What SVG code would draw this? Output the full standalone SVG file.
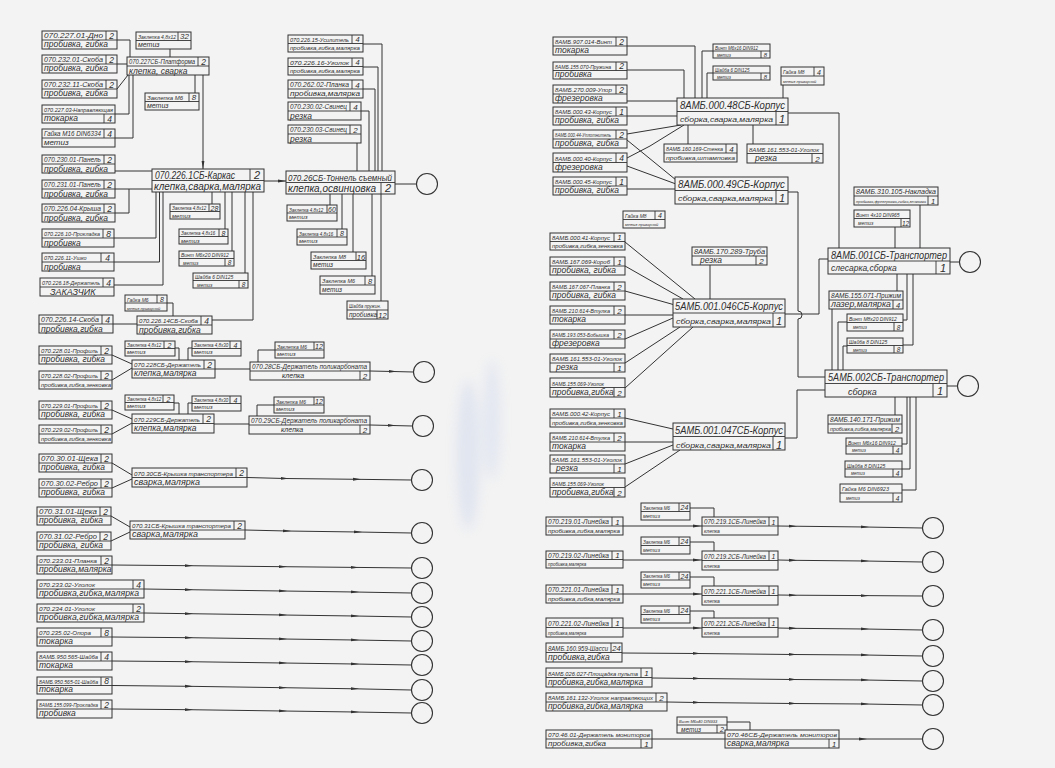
<svg xmlns="http://www.w3.org/2000/svg" width="1055" height="768" viewBox="0 0 1055 768">
<style>
.b{fill:#f3f3f3;stroke:#333;stroke-width:1}
.d{fill:none;stroke:#333;stroke-width:0.9}
.w{fill:none;stroke:#333;stroke-width:1}
.m{marker-mid:url(#a)}
.e{marker-end:url(#ae)}
.o{fill:#f3f3f3;stroke:#333;stroke-width:1.1}
text{font-family:"Liberation Sans",Arial,sans-serif;font-style:italic;fill:#2e2e2e}
.n{text-anchor:middle}
</style>
<defs>
<marker id="a" viewBox="0 0 8 4" refX="4" refY="2" markerWidth="8" markerHeight="4" markerUnits="userSpaceOnUse" orient="auto"><path d="M0 0.6L8 2L0 3.4z" fill="#333"/></marker>
<marker id="ae" viewBox="0 0 8 4" refX="8" refY="2" markerWidth="8" markerHeight="4" markerUnits="userSpaceOnUse" orient="auto"><path d="M0 0.6L8 2L0 3.4z" fill="#333"/></marker>
<filter id="bl" x="-1" y="-1" width="3" height="3"><feGaussianBlur stdDeviation="6"/></filter>
</defs>
<rect x="0" y="0" width="1055" height="768" fill="#f3f3f3"/>
<g opacity="0.18" filter="url(#bl)"><ellipse cx="468" cy="455" rx="12" ry="75" fill="#8fa8e0"/><ellipse cx="492" cy="420" rx="9" ry="60" fill="#9db3e6"/></g>

<g id="connectors">
<path class="w" d="M117 40H130V57M117 64H127M117 89L128 75M115 114H129V75M115 138H133V75M170 49V57M195 93V75"/>
<path class="w e" d="M203 75V169"/>
<path class="w" d="M115 171H152M115 189H152M115 213H129V189M114 238H156V192M114 262H159.5V192M114 285H163V192M212 204V192M225 229V192M232 251V192M245 273V192M212 320H253V192M113 324H137M167 303H173V316"/>
<path class="w e" d="M264 181H286"/>
<path class="w" d="M363 44H382V171M363 67H378V171M363 89H375V171M361 111H369V171M357 143V171M330 205V194M342 229V194M353 252V194M372 276V194M381 301V194M395 184H416.5"/>
<path class="w" d="M112 355L132 364M112 380L132 368M175 348H179V360M192 348H188V360M215 369H250M275 350H258V362"/>
<path class="w m" d="M370 371L393 371.5L413.5 372"/>
<path class="w" d="M112 410L132 419M112 434L132 423M174 403H179V414M192 403H188V414M214 424H249M274 405H257V416"/>
<path class="w m" d="M370 425L392 425.5L412.5 426"/>
<path class="w" d="M112 463L132 475M112 488L132 479M111 516L130 527M111 541L130 532"/>
<path class="w m" d="M247 477.5L285 478.5L357 479.3L411.5 480"/>
<path class="w m" d="M245 530L287 531L358 532L411.5 533"/>
<path class="w m" d="M112 565L189 565.7L283 566.7L355 567.4L411.5 568"/>
<path class="w m" d="M144 589L189 589.7L283 591L355 592L411.5 593"/>
<path class="w m" d="M144 613L189 613.7L283 615L355 616L411.5 617"/>
<path class="w m" d="M112 637L189 637.7L283 639L355 640L411.5 641"/>
<path class="w m" d="M112 661L189 661.7L283 663L355 664L411.5 665"/>
<path class="w m" d="M112 685.5L189 686.3L283 687.7L355 688.8L411.5 690"/>
<path class="w m" d="M112 709L189 709.7L283 711L355 712L411.5 713"/>
<path class="w" d="M627 46H695V98M627 70H684V98M627 101H677M627 116H677M627 134L681 125M627 140L676 180M627 158L650 146L684 125M627 166L676 184M627 189H675M713 51H702V98M713 73H707V98M783 85V98M688 144V125M753 144V125"/>
<path class="w" d="M788 113H839V248M788 192H798V311A4 4 0 0 1 798 319V377H825M785 314H819V259H828M785 438H797V390H825"/>
<path class="w" d="M625 242L695 299M625 266L683 299M625 291L675 305M625 315H673M625 339L673 318M625 363L680 327M625 388L693 327M710 265V299"/>
<path class="w" d="M625 418L673 429M625 442H673M625 464L673 445M625 487L680 450"/>
<path class="w" d="M920 205V248M895 227V248M950 262H959.5M897 274V291M903 320H907V274M903 345H913V274M832 309V370M847 322H838V370M847 346H843V370M947 386H957.5M895 415V397M902 444H907V397M902 469H910V397M902 490H916V397"/>
<path class="w m" d="M623 526L697 526L702 526"/>
<path class="w" d="M690 508H714V517M690 542H714V551M690 577H714V586M690 611H714V618M727 722H750V730M652 739H725"/>
<path class="w m" d="M778 526L793 526.2L865 527L922.5 528"/>
<path class="w m" d="M623 560L697 560L702 560"/>
<path class="w m" d="M778 560L793 560.3L865 561L922.5 562"/>
<path class="w m" d="M623 594L697 594L702 594"/>
<path class="w m" d="M778 595L793 595.2L865 595.6L922.5 596"/>
<path class="w m" d="M623 628L697 628L702 628"/>
<path class="w m" d="M778 628L793 628.3L865 629L922.5 630"/>
<path class="w m" d="M622 653L697 653.5L793 654.5L865 655L922.5 656"/>
<path class="w m" d="M652 678L697 678.5L793 679.5L865 680L922.5 681"/>
<path class="w m" d="M667 702L697 702.5L793 703.5L865 704L922.5 705"/>
<path class="w m" d="M839 739L863 739L922.5 739"/>
</g>

<g id="circles">
<circle class="o" cx="427" cy="184" r="10.5"/><circle class="o" cx="424" cy="372" r="10.5"/><circle class="o" cx="423" cy="426" r="10.5"/><circle class="o" cx="422" cy="480" r="10.5"/><circle class="o" cx="422" cy="533" r="10.5"/><circle class="o" cx="422" cy="568" r="10.5"/><circle class="o" cx="422" cy="593" r="10.5"/><circle class="o" cx="422" cy="617" r="10.5"/><circle class="o" cx="422" cy="641" r="10.5"/><circle class="o" cx="422" cy="665" r="10.5"/><circle class="o" cx="422" cy="690" r="10.5"/><circle class="o" cx="422" cy="713" r="10.5"/>
<circle class="o" cx="970" cy="262" r="10.5"/><circle class="o" cx="968" cy="386" r="10.5"/><circle class="o" cx="933" cy="528" r="10.5"/><circle class="o" cx="933" cy="562" r="10.5"/><circle class="o" cx="933" cy="596" r="10.5"/><circle class="o" cx="933" cy="630" r="10.5"/><circle class="o" cx="933" cy="656" r="10.5"/><circle class="o" cx="933" cy="681" r="10.5"/><circle class="o" cx="933" cy="705" r="10.5"/><circle class="o" cx="933" cy="739" r="10.5"/>
</g>

<g id="L1"><rect class="b" x="42" y="31" width="75" height="18"/><path class="d" d="M42 40h75M106 31v9"/><text x="44" y="38" font-size="7" textLength="59" lengthAdjust="spacingAndGlyphs">070.227.01-Дно</text><text x="44" y="46.5" font-size="8.5">пробивка, гибка</text><text class="n" x="111.5" y="38.5" font-size="8.5">2</text></g>
<g id="L2"><rect class="b" x="42" y="55" width="75" height="18"/><path class="d" d="M42 64h75M106 55v9"/><text x="44" y="62" font-size="7" textLength="59" lengthAdjust="spacingAndGlyphs">070.232.01-Скоба</text><text x="44" y="70.5" font-size="8.5">пробивка, гибка</text><text class="n" x="111.5" y="62.5" font-size="8.5">2</text></g>
<g id="L3"><rect class="b" x="42" y="80" width="75" height="18"/><path class="d" d="M42 89h75M106 80v9"/><text x="44" y="87" font-size="7" textLength="59" lengthAdjust="spacingAndGlyphs">070.232.11-Скоба</text><text x="44" y="95.5" font-size="8.5">пробивка, гибка</text><text class="n" x="111.5" y="87.5" font-size="8.5">2</text></g>
<g id="L4"><rect class="b" x="42" y="105" width="73" height="18"/><path class="d" d="M42 114h73M104 114v9"/><text x="44" y="112" font-size="6" textLength="69" lengthAdjust="spacingAndGlyphs">070.227.03-Направляющая</text><text x="44" y="120.5" font-size="8.5">токарка</text><text class="n" x="109.5" y="121.5" font-size="8.5">4</text></g>
<g id="L5"><rect class="b" x="42" y="129" width="73" height="18"/><path class="d" d="M42 138h73M104 129v9"/><text x="44" y="136" font-size="6.5" textLength="57" lengthAdjust="spacingAndGlyphs">Гайка М16 DIN6334</text><text x="44" y="145" font-size="8">метиз</text><text class="n" x="109.5" y="136.5" font-size="8.5">4</text></g>
<g id="L6"><rect class="b" x="42" y="155" width="73" height="18"/><path class="d" d="M42 164h73M104 155v9"/><text x="44" y="162" font-size="7" textLength="57" lengthAdjust="spacingAndGlyphs">070.230.01-Панель</text><text x="44" y="171.5" font-size="8.5">пробивка, гибка</text><text class="n" x="109.5" y="162.5" font-size="8.5">2</text></g>
<g id="L7"><rect class="b" x="42" y="180" width="73" height="18"/><path class="d" d="M42 189h73M104 180v9"/><text x="44" y="187" font-size="7" textLength="57" lengthAdjust="spacingAndGlyphs">070.231.01-Панель</text><text x="44" y="196.5" font-size="8.5">пробивка, гибка</text><text class="n" x="109.5" y="187.5" font-size="8.5">2</text></g>
<g id="L8"><rect class="b" x="42" y="204" width="73" height="18"/><path class="d" d="M42 213h73M104 204v9"/><text x="44" y="211" font-size="7" textLength="57" lengthAdjust="spacingAndGlyphs">070.226.04-Крыша</text><text x="44" y="220.5" font-size="8.5">пробивка, гибка</text><text class="n" x="109.5" y="211.5" font-size="8.5">2</text></g>
<g id="L9"><rect class="b" x="42" y="229" width="72" height="18"/><path class="d" d="M42 238h72M103 229v9"/><text x="44" y="236" font-size="6" textLength="56" lengthAdjust="spacingAndGlyphs">070.226.10-Прокладка</text><text x="44" y="245.5" font-size="8.5">пробивка</text><text class="n" x="108.5" y="236.5" font-size="8.5">8</text></g>
<g id="L10"><rect class="b" x="42" y="253" width="72" height="18"/><path class="d" d="M42 262h72M101 253v9"/><text x="44" y="260" font-size="5.5">070.226.11-Ушко</text><text x="44" y="269.5" font-size="8.5">пробивка</text><text class="n" x="107.5" y="260.5" font-size="8.5">4</text></g>
<g id="L11"><rect class="b" x="40" y="278" width="74" height="18"/><path class="d" d="M40 287h74M103 278v9"/><text x="42" y="285" font-size="6" textLength="58" lengthAdjust="spacingAndGlyphs">070.226.18-Держатель</text><text x="50" y="294.5" font-size="9">ЗАКАЗЧИК</text><text class="n" x="108.5" y="285.5" font-size="8.5">4</text></g>
<g id="L12"><rect class="b" x="39" y="315" width="74" height="18"/><path class="d" d="M39 324h74M102 315v9"/><text x="41" y="322" font-size="7" textLength="58" lengthAdjust="spacingAndGlyphs">070.226.14-Скоба</text><text x="41" y="331.5" font-size="8.5">пробивка,гибка</text><text class="n" x="107.5" y="322.5" font-size="8.5">4</text></g>

<g id="platform"><rect class="b" x="127" y="57" width="82" height="18"/><path class="d" d="M127 66h82M198 57v9"/><text x="129" y="64" font-size="6.5" textLength="66" lengthAdjust="spacingAndGlyphs">070.227СБ-Платформа</text><text x="129" y="73.5" font-size="8.5">клепка, сварка</text><text class="n" x="203.5" y="64.5" font-size="8.5">2</text></g>
<g id="zak32"><rect class="b" x="136" y="32" width="55" height="17"/><path class="d" d="M136 40.5h55M178 32v8.5"/><text x="138" y="38.5" font-size="5">Заклепка 4,8х12</text><text x="138" y="47" font-size="7">метиз</text><text class="n" x="184.5" y="39" font-size="8">32</text></g>
<g id="zakm6a"><rect class="b" x="145" y="93" width="54" height="17"/><path class="d" d="M145 101.5h54M189 93v8.5"/><text x="147" y="99.5" font-size="6">Заклепка М6</text><text x="147" y="108" font-size="7">метиз</text><text class="n" x="194" y="100" font-size="8">8</text></g>
<g id="karkas"><rect class="b" x="152" y="169" width="112" height="23"/><path class="d" d="M152 180.5h112M250 169v11.5"/><text x="155" y="178.5" font-size="10" textLength="80" lengthAdjust="spacingAndGlyphs">070.226.1СБ-Каркас</text><text x="154" y="190" font-size="10" textLength="107" lengthAdjust="spacingAndGlyphs">клепка,сварка,малярка</text><text class="n" x="257" y="179" font-size="11">2</text></g>
<g id="zak28"><rect class="b" x="170" y="204" width="50" height="15"/><path class="d" d="M170 211.5h50M209 204v7.5"/><text x="172" y="210" font-size="4.5">Заклепка 4,8х12</text><text x="172" y="217.5" font-size="6">метиз</text><text class="n" x="214.5" y="210.5" font-size="7">28</text></g>
<g id="zak8a"><rect class="b" x="179" y="229" width="49" height="15"/><path class="d" d="M179 236.5h49M219 229v7.5"/><text x="181" y="235" font-size="4.5">Заклепка 4,8х16</text><text x="181" y="242.5" font-size="6">метиз</text><text class="n" x="223.5" y="235.5" font-size="7">8</text></g>
<g id="vint1"><rect class="b" x="179" y="251" width="55" height="15"/><path class="d" d="M179 258.5h55M225 258.5v7.5"/><text x="181" y="257" font-size="5">Винт М6х20 DIN912</text><text x="183" y="264.5" font-size="5">метиз</text><text class="n" x="229.5" y="265" font-size="6.5">8</text></g>
<g id="shayba1"><rect class="b" x="193" y="273" width="55" height="15"/><path class="d" d="M193 280.5h55M239 280.5v7.5"/><text x="195" y="279" font-size="5">Шайба 6 DIN125</text><text x="197" y="286.5" font-size="5">метиз</text><text class="n" x="243.5" y="287" font-size="6.5">8</text></g>
<g id="gaykam6"><rect class="b" x="125" y="295" width="42" height="16"/><path class="d" d="M125 303h42M157 295v8"/><text x="127" y="301.5" font-size="5">Гайка М6</text><text x="127" y="309.5" font-size="4">метиз приварной</text><text class="n" x="162" y="302" font-size="7">8</text></g>
<g id="s14sb"><rect class="b" x="137" y="316" width="75" height="18"/><path class="d" d="M137 325h75M201 316v9"/><text x="139" y="323" font-size="6" textLength="59" lengthAdjust="spacingAndGlyphs">070.226.14СБ-Скоба</text><text x="139" y="332.5" font-size="8.5">пробивка,гибка</text><text class="n" x="206.5" y="323.5" font-size="8.5">4</text></g>

<g id="T1"><rect class="b" x="288" y="35" width="75" height="17"/><path class="d" d="M288 43.5h75M352 35v8.5"/><text x="290" y="41.5" font-size="5.5" textLength="59" lengthAdjust="spacingAndGlyphs">070.226.15-Усилитель</text><text x="290" y="50" font-size="5.5" textLength="70" lengthAdjust="spacingAndGlyphs">пробивка,гибка,малярка</text><text class="n" x="357.5" y="42" font-size="7.5">4</text></g>
<g id="T2"><rect class="b" x="288" y="58" width="75" height="17"/><path class="d" d="M288 66.5h75M352 58v8.5"/><text x="290" y="64.5" font-size="5.5" textLength="59" lengthAdjust="spacingAndGlyphs">070.226.16-Уголок</text><text x="290" y="73" font-size="5.5" textLength="70" lengthAdjust="spacingAndGlyphs">пробивка,гибка,малярка</text><text class="n" x="357.5" y="65" font-size="7.5">4</text></g>
<g id="T3"><rect class="b" x="288" y="80" width="75" height="18"/><path class="d" d="M288 89h75M352 80v9"/><text x="290" y="87" font-size="6.5" textLength="59" lengthAdjust="spacingAndGlyphs">070.262.02-Планка</text><text x="290" y="96" font-size="7.5" textLength="70" lengthAdjust="spacingAndGlyphs">пробивка,малярка</text><text class="n" x="357.5" y="87.5" font-size="8">4</text></g>
<g id="T4"><rect class="b" x="288" y="102" width="73" height="18"/><path class="d" d="M288 111h73M350 102v9"/><text x="290" y="109" font-size="6.5" textLength="57" lengthAdjust="spacingAndGlyphs">070.230.02-Свинец</text><text x="290" y="118.5" font-size="8.5">резка</text><text class="n" x="355.5" y="109.5" font-size="8">4</text></g>
<g id="T5"><rect class="b" x="288" y="125" width="73" height="18"/><path class="d" d="M288 134h73M350 125v9"/><text x="290" y="132" font-size="6.5" textLength="57" lengthAdjust="spacingAndGlyphs">070.230.03-Свинец</text><text x="290" y="141.5" font-size="8.5">резка</text><text class="n" x="355.5" y="132.5" font-size="8">2</text></g>
<g id="tunnel"><rect class="b" x="286" y="171" width="109" height="23"/><path class="d" d="M286 182.5h109M381 182.5v11.5"/><text x="288" y="180.5" font-size="9" textLength="104" lengthAdjust="spacingAndGlyphs">070.26СБ-Тоннель съемный</text><text x="288" y="192" font-size="10" textLength="88" lengthAdjust="spacingAndGlyphs">клепка,освинцовка</text><text class="n" x="388" y="192" font-size="11">2</text></g>
<g id="TZ1"><rect class="b" x="287" y="205" width="50" height="16"/><path class="d" d="M287 213h50M327 205v8"/><text x="289" y="211.5" font-size="4.5">Заклепка 4,8х12</text><text x="289" y="219" font-size="6">метиз</text><text class="n" x="332" y="212" font-size="7">60</text></g>
<g id="TZ2"><rect class="b" x="297" y="229" width="50" height="16"/><path class="d" d="M297 237h50M337 229v8"/><text x="299" y="235.5" font-size="4.5">Заклепка 4,8х16</text><text x="299" y="243" font-size="6">метиз</text><text class="n" x="342" y="236" font-size="7">8</text></g>
<g id="TZ3"><rect class="b" x="311" y="252" width="55" height="17"/><path class="d" d="M311 260.5h55M356 252v8.5"/><text x="313" y="259" font-size="5.5">Заклепка М8</text><text x="313" y="267" font-size="6.5">метиз</text><text class="n" x="361" y="259.5" font-size="7.5">16</text></g>
<g id="TZ4"><rect class="b" x="320" y="276" width="55" height="18"/><path class="d" d="M320 285h55M365 276v9"/><text x="322" y="283" font-size="5.5">Заклепка М6</text><text x="322" y="292" font-size="6.5">метиз</text><text class="n" x="370" y="283.5" font-size="7.5">8</text></g>
<g id="TZ5"><rect class="b" x="347" y="301" width="41" height="18"/><path class="d" d="M347 310h41M377 310v9"/><text x="349" y="308" font-size="4.5">Шайба пружин.</text><text x="349" y="317" font-size="6.5">пробивка</text><text class="n" x="382.5" y="317.5" font-size="7.5">12</text></g>

<g id="P1"><rect class="b" x="39" y="346" width="73" height="18"/><path class="d" d="M39 355h73M101 346v9"/><text x="41" y="353" font-size="6" textLength="57" lengthAdjust="spacingAndGlyphs">070.228.01-Профиль</text><text x="41" y="361.5" font-size="8.5">пробивка, гибка</text><text class="n" x="106.5" y="353.5" font-size="8.5">2</text></g>
<g id="P2"><rect class="b" x="39" y="371" width="73" height="18"/><path class="d" d="M39 380h73M101 371v9"/><text x="41" y="378" font-size="6" textLength="57" lengthAdjust="spacingAndGlyphs">070.228.02-Профиль</text><text x="41" y="387" font-size="5" textLength="70" lengthAdjust="spacingAndGlyphs">пробивка,гибка,зенковка</text><text class="n" x="106.5" y="378.5" font-size="8.5">2</text></g>
<g id="PZ1"><rect class="b" x="125" y="341" width="50" height="15"/><path class="d" d="M125 348.5h50M164 341v7.5"/><text x="127" y="347" font-size="4.5">Заклепка 4,8х12</text><text x="127" y="354" font-size="6">метиз</text><text class="n" x="169.5" y="347.5" font-size="7">2</text></g>
<g id="PZ2"><rect class="b" x="192" y="341" width="49" height="15"/><path class="d" d="M192 348.5h49M230 341v7.5"/><text x="194" y="347" font-size="4.5">Заклепка 4,8х30</text><text x="194" y="354" font-size="6">метиз</text><text class="n" x="235.5" y="347.5" font-size="7">4</text></g>
<g id="h228sb"><rect class="b" x="132" y="360" width="83" height="18"/><path class="d" d="M132 369h83M204 360v9"/><text x="134" y="367" font-size="6" textLength="67" lengthAdjust="spacingAndGlyphs">070.228СБ-Держатель</text><text x="134" y="376" font-size="8.5">клепка,малярка</text><text class="n" x="209.5" y="367.5" font-size="8.5">2</text></g>
<g id="PZ3"><rect class="b" x="275" y="342" width="49" height="16"/><path class="d" d="M275 350h49M314 342v8"/><text x="277" y="348.5" font-size="5">Заклепка М6</text><text x="277" y="356" font-size="6">метиз</text><text class="n" x="319" y="349" font-size="7">12</text></g>
<g id="h28sb"><rect class="b" x="250" y="362" width="120" height="18"/><path class="d" d="M250 371h120M360 371v9"/><text x="252" y="369" font-size="6.5" textLength="115" lengthAdjust="spacingAndGlyphs">070.28СБ-Держатель поликарбоната</text><text x="282" y="378" font-size="7">клепка</text><text class="n" x="365" y="378.5" font-size="8">2</text></g>

<g id="Q1"><rect class="b" x="39" y="401" width="73" height="18"/><path class="d" d="M39 410h73M101 401v9"/><text x="41" y="408" font-size="6" textLength="57" lengthAdjust="spacingAndGlyphs">070.229.01-Профиль</text><text x="41" y="416.5" font-size="8.5">пробивка, гибка</text><text class="n" x="106.5" y="408.5" font-size="8.5">2</text></g>
<g id="Q2"><rect class="b" x="39" y="425" width="73" height="18"/><path class="d" d="M39 434h73M101 425v9"/><text x="41" y="432" font-size="6" textLength="57" lengthAdjust="spacingAndGlyphs">070.229.02-Профиль</text><text x="41" y="441" font-size="5" textLength="70" lengthAdjust="spacingAndGlyphs">пробивка,гибка,зенковка</text><text class="n" x="106.5" y="432.5" font-size="8.5">2</text></g>
<g id="QZ1"><rect class="b" x="125" y="395" width="49" height="15"/><path class="d" d="M125 402.5h49M163 395v7.5"/><text x="127" y="401" font-size="4.5">Заклепка 4,8х12</text><text x="127" y="408" font-size="6">метиз</text><text class="n" x="168.5" y="401.5" font-size="7">2</text></g>
<g id="QZ2"><rect class="b" x="192" y="396" width="49" height="15"/><path class="d" d="M192 403.5h49M230 396v7.5"/><text x="194" y="402" font-size="4.5">Заклепка 4,8х30</text><text x="194" y="409" font-size="6">метиз</text><text class="n" x="235.5" y="402.5" font-size="7">4</text></g>
<g id="h229sb"><rect class="b" x="132" y="414" width="82" height="19"/><path class="d" d="M132 423.5h82M203 414v9.5"/><text x="134" y="421.5" font-size="6" textLength="66" lengthAdjust="spacingAndGlyphs">070.229СБ-Держатель</text><text x="134" y="430.5" font-size="8.5">клепка,малярка</text><text class="n" x="208.5" y="422" font-size="8.5">2</text></g>
<g id="QZ3"><rect class="b" x="274" y="397" width="50" height="16"/><path class="d" d="M274 405h50M314 397v8"/><text x="276" y="403.5" font-size="5">Заклепка М6</text><text x="276" y="411" font-size="6">метиз</text><text class="n" x="319" y="404" font-size="7">12</text></g>
<g id="h29sb"><rect class="b" x="249" y="416" width="121" height="18"/><path class="d" d="M249 425h121M360 425v9"/><text x="251" y="423" font-size="6.5" textLength="116" lengthAdjust="spacingAndGlyphs">070.29СБ-Держатель поликарбоната</text><text x="281" y="432" font-size="7">клепка</text><text class="n" x="365" y="432.5" font-size="8">2</text></g>

<g id="R1"><rect class="b" x="39" y="454" width="73" height="18"/><path class="d" d="M39 463h73M101 454v9"/><text x="41" y="461" font-size="7" textLength="57" lengthAdjust="spacingAndGlyphs">070.30.01-Щека</text><text x="41" y="469.5" font-size="8.5">пробивка, гибка</text><text class="n" x="106.5" y="461.5" font-size="8.5">2</text></g>
<g id="R2"><rect class="b" x="39" y="479" width="73" height="18"/><path class="d" d="M39 488h73M101 479v9"/><text x="41" y="486" font-size="7" textLength="57" lengthAdjust="spacingAndGlyphs">070.30.02-Ребро</text><text x="41" y="494.5" font-size="8.5">пробивка, гибка</text><text class="n" x="106.5" y="486.5" font-size="8.5">2</text></g>
<g id="h30sb"><rect class="b" x="132" y="468" width="115" height="19"/><path class="d" d="M132 477.5h115M236 468v9.5"/><text x="134" y="475.5" font-size="6" textLength="99" lengthAdjust="spacingAndGlyphs">070.30СБ-Крышка транспортера</text><text x="134" y="485" font-size="9">сварка,малярка</text><text class="n" x="241.5" y="476" font-size="8.5">2</text></g>

<g id="S1"><rect class="b" x="37" y="507" width="74" height="18"/><path class="d" d="M37 516h74M100 507v9"/><text x="39" y="514" font-size="7" textLength="58" lengthAdjust="spacingAndGlyphs">070.31.01-Щека</text><text x="39" y="522.5" font-size="8.5">пробивка, гибка</text><text class="n" x="105.5" y="514.5" font-size="8.5">2</text></g>
<g id="S2"><rect class="b" x="37" y="532" width="74" height="18"/><path class="d" d="M37 541h74M100 532v9"/><text x="39" y="539" font-size="7" textLength="58" lengthAdjust="spacingAndGlyphs">070.31.02-Ребро</text><text x="39" y="547.5" font-size="8.5">пробивка, гибка</text><text class="n" x="105.5" y="539.5" font-size="8.5">2</text></g>
<g id="h31sb"><rect class="b" x="130" y="521" width="115" height="18"/><path class="d" d="M130 530h115M234 521v9"/><text x="132" y="528" font-size="6" textLength="99" lengthAdjust="spacingAndGlyphs">070.31СБ-Крышка транспортера</text><text x="132" y="537" font-size="9">сварка,малярка</text><text class="n" x="239.5" y="528.5" font-size="8.5">2</text></g>

<g id="U1"><rect class="b" x="37" y="556" width="75" height="18"/><path class="d" d="M37 565h75M101 556v9"/><text x="39" y="563" font-size="6" textLength="58" lengthAdjust="spacingAndGlyphs">070.233.01-Планка</text><text x="39" y="571.5" font-size="8.5">пробивка,малярка</text><text class="n" x="106.5" y="563.5" font-size="8.5">2</text></g>
<g id="U2"><rect class="b" x="37" y="580" width="107" height="18"/><path class="d" d="M37 589h107M133 580v9"/><text x="39" y="587" font-size="6" textLength="56" lengthAdjust="spacingAndGlyphs">070.233.02-Уголок</text><text x="39" y="595.5" font-size="9" textLength="100" lengthAdjust="spacingAndGlyphs">пробивка,гибка,малярка</text><text class="n" x="138.5" y="587.5" font-size="8.5">4</text></g>
<g id="U3"><rect class="b" x="37" y="604" width="107" height="18"/><path class="d" d="M37 613h107M133 604v9"/><text x="39" y="611" font-size="6" textLength="56" lengthAdjust="spacingAndGlyphs">070.234.01-Уголок</text><text x="39" y="619.5" font-size="9" textLength="100" lengthAdjust="spacingAndGlyphs">пробивка,гибка,малярка</text><text class="n" x="138.5" y="611.5" font-size="8.5">2</text></g>
<g id="U4"><rect class="b" x="37" y="628" width="75" height="18"/><path class="d" d="M37 637h75M101 628v9"/><text x="39" y="635" font-size="6" textLength="52" lengthAdjust="spacingAndGlyphs">070.235.02-Опора</text><text x="39" y="643.5" font-size="8.5">токарка</text><text class="n" x="106.5" y="635.5" font-size="8.5">8</text></g>
<g id="U5"><rect class="b" x="37" y="652" width="75" height="18"/><path class="d" d="M37 661h75M101 652v9"/><text x="39" y="659" font-size="6" textLength="59" lengthAdjust="spacingAndGlyphs">8АМБ.950.565-Шайба</text><text x="39" y="667.5" font-size="8.5">токарка</text><text class="n" x="106.5" y="659.5" font-size="8.5">4</text></g>
<g id="U6"><rect class="b" x="37" y="677" width="75" height="17"/><path class="d" d="M37 685.5h75M101 677v8.5"/><text x="39" y="683.5" font-size="5.5" textLength="59" lengthAdjust="spacingAndGlyphs">8АМБ.950.565-01-Шайба</text><text x="39" y="692" font-size="8.5">токарка</text><text class="n" x="106.5" y="684" font-size="8.5">8</text></g>
<g id="U7"><rect class="b" x="37" y="700" width="75" height="18"/><path class="d" d="M37 709h75M101 700v9"/><text x="39" y="707" font-size="5.5" textLength="59" lengthAdjust="spacingAndGlyphs">8АМБ.155.099-Прокладка</text><text x="39" y="715.5" font-size="8.5">пробивка</text><text class="n" x="106.5" y="707.5" font-size="8.5">2</text></g>

<g id="A1"><rect class="b" x="553" y="37" width="74" height="18"/><path class="d" d="M553 46h74M616 37v9"/><text x="555" y="44" font-size="6" textLength="57" lengthAdjust="spacingAndGlyphs">8АМБ.907.014-Винт</text><text x="555" y="52.5" font-size="8.5">токарка</text><text class="n" x="621.5" y="44.5" font-size="8.5">2</text></g>
<g id="A2"><rect class="b" x="553" y="62" width="74" height="17"/><path class="d" d="M553 70.5h74M616 62v8.5"/><text x="555" y="68.5" font-size="5.5" textLength="56" lengthAdjust="spacingAndGlyphs">8АМБ.155.070-Пружина</text><text x="555" y="77" font-size="8.5">пробивка</text><text class="n" x="621.5" y="69" font-size="8.5">2</text></g>
<g id="A3"><rect class="b" x="553" y="85" width="74" height="18"/><path class="d" d="M553 94h74M616 85v9"/><text x="555" y="92" font-size="6" textLength="57" lengthAdjust="spacingAndGlyphs">8АМБ.270.009-Упор</text><text x="555" y="100.5" font-size="8.5">фрезеровка</text><text class="n" x="621.5" y="92.5" font-size="8.5">2</text></g>
<g id="A4"><rect class="b" x="553" y="107" width="74" height="18"/><path class="d" d="M553 116h74M616 107v9"/><text x="555" y="114" font-size="6" textLength="57" lengthAdjust="spacingAndGlyphs">8АМБ.000.43-Корпус</text><text x="555" y="122.5" font-size="8.5">пробивка, гибка</text><text class="n" x="621.5" y="114.5" font-size="8.5">1</text></g>
<g id="A5"><rect class="b" x="553" y="130" width="74" height="18"/><path class="d" d="M553 139h74M616 130v9"/><text x="555" y="137" font-size="5" textLength="56" lengthAdjust="spacingAndGlyphs">8АМБ.000.44-Уплотнитель</text><text x="555" y="145.5" font-size="8.5">пробивка, гибка</text><text class="n" x="621.5" y="137.5" font-size="8.5">2</text></g>
<g id="A6"><rect class="b" x="553" y="153" width="74" height="19"/><path class="d" d="M553 162.5h74M616 153v9.5"/><text x="555" y="160.5" font-size="6" textLength="57" lengthAdjust="spacingAndGlyphs">8АМБ.000.40-Корпус</text><text x="555" y="169.5" font-size="8.5">фрезеровка</text><text class="n" x="621.5" y="161" font-size="8.5">4</text></g>
<g id="A7"><rect class="b" x="553" y="177" width="74" height="18"/><path class="d" d="M553 186h74M616 177v9"/><text x="555" y="184" font-size="6" textLength="57" lengthAdjust="spacingAndGlyphs">8АМБ.000.45-Корпус</text><text x="555" y="192.5" font-size="8.5">пробивка, гибка</text><text class="n" x="621.5" y="184.5" font-size="8.5">1</text></g>
<g id="AV"><rect class="b" x="713" y="44" width="57" height="14"/><path class="d" d="M713 51h57M761 51v7"/><text x="715" y="49.5" font-size="4.5">Винт М6х16 DIN912</text><text x="717" y="56.5" font-size="4.5">метиз</text><text class="n" x="765.5" y="57" font-size="6">8</text></g>
<g id="AS"><rect class="b" x="713" y="66" width="57" height="14"/><path class="d" d="M713 73h57M761 73v7"/><text x="715" y="71.5" font-size="4.5">Шайба 6 DIN125</text><text x="717" y="78.5" font-size="4.5">метиз</text><text class="n" x="765.5" y="79" font-size="6">8</text></g>
<g id="AG"><rect class="b" x="781" y="67" width="43" height="18"/><path class="d" d="M781 76h43M814 67v9"/><text x="783" y="74" font-size="5">Гайка М8</text><text x="783" y="83" font-size="4">метиз приварной</text><text class="n" x="819" y="74.5" font-size="7">4</text></g>
<g id="K48"><rect class="b" x="677" y="98" width="111" height="27"/><path class="d" d="M677 111.5h111M776 111.5v13.5"/><text x="680" y="109" font-size="11" textLength="105" lengthAdjust="spacingAndGlyphs">8АМБ.000.48СБ-Корпус</text><text x="680" y="122" font-size="8" textLength="93" lengthAdjust="spacingAndGlyphs">сборка,сварка,малярка</text><text class="n" x="782" y="123" font-size="11">1</text></g>
<g id="AW"><rect class="b" x="664" y="144" width="73" height="18"/><path class="d" d="M664 153h73M726 144v9"/><text x="666" y="151" font-size="6" textLength="57" lengthAdjust="spacingAndGlyphs">8АМБ.160.169-Стенка</text><text x="666" y="160" font-size="6" textLength="69" lengthAdjust="spacingAndGlyphs">пробивка,штамповка</text><text class="n" x="731.5" y="151.5" font-size="8">4</text></g>
<g id="AU"><rect class="b" x="747" y="144" width="76" height="19"/><path class="d" d="M747 153.5h76M812 153.5v9.5"/><text x="749" y="151.5" font-size="5" textLength="70" lengthAdjust="spacingAndGlyphs">8АМБ.161.553-01-Уголок</text><text x="755" y="161" font-size="8.5">резка</text><text class="n" x="817.5" y="161.5" font-size="8">2</text></g>
<g id="K49"><rect class="b" x="675" y="177" width="113" height="27"/><path class="d" d="M675 190.5h113M776 190.5v13.5"/><text x="678" y="188" font-size="11" textLength="107" lengthAdjust="spacingAndGlyphs">8АМБ.000.49СБ-Корпус</text><text x="678" y="201" font-size="8" textLength="95" lengthAdjust="spacingAndGlyphs">сборка,сварка,малярка</text><text class="n" x="782" y="202" font-size="11">1</text></g>
<g id="AG2"><rect class="b" x="623" y="211" width="42" height="17"/><path class="d" d="M623 219.5h42M655 211v8.5"/><text x="625" y="217.5" font-size="5">Гайка М8</text><text x="625" y="226" font-size="4">метиз приварной</text><text class="n" x="660" y="218" font-size="7">4</text></g>

<g id="B1"><rect class="b" x="550" y="233" width="75" height="17"/><path class="d" d="M550 241.5h75M614 233v8.5"/><text x="552" y="239.5" font-size="6" textLength="58" lengthAdjust="spacingAndGlyphs">8АМБ.000.41-Корпус</text><text x="552" y="248" font-size="5" textLength="71" lengthAdjust="spacingAndGlyphs">пробивка,гибка,зенковка</text><text class="n" x="619.5" y="240" font-size="8">1</text></g>
<g id="B2"><rect class="b" x="550" y="257" width="75" height="18"/><path class="d" d="M550 266h75M614 257v9"/><text x="552" y="264" font-size="6" textLength="58" lengthAdjust="spacingAndGlyphs">8АМБ.167.069-Короб</text><text x="552" y="272.5" font-size="8.5">пробивка, гибка</text><text class="n" x="619.5" y="264.5" font-size="8">1</text></g>
<g id="B3"><rect class="b" x="550" y="282" width="75" height="18"/><path class="d" d="M550 291h75M614 282v9"/><text x="552" y="289" font-size="6" textLength="58" lengthAdjust="spacingAndGlyphs">8АМБ.167.067-Планка</text><text x="552" y="297.5" font-size="8.5">пробивка, гибка</text><text class="n" x="619.5" y="289.5" font-size="8">2</text></g>
<g id="B4"><rect class="b" x="550" y="306" width="75" height="18"/><path class="d" d="M550 315h75M614 306v9"/><text x="552" y="313" font-size="6" textLength="58" lengthAdjust="spacingAndGlyphs">8АМБ.210.614-Втулка</text><text x="552" y="321.5" font-size="8.5">токарка</text><text class="n" x="619.5" y="313.5" font-size="8">2</text></g>
<g id="B5"><rect class="b" x="550" y="330" width="75" height="18"/><path class="d" d="M550 339h75M614 330v9"/><text x="552" y="337" font-size="5.5" textLength="57" lengthAdjust="spacingAndGlyphs">8АМБ.193.053-Бобышка</text><text x="552" y="345.5" font-size="8.5">фрезеровка</text><text class="n" x="619.5" y="337.5" font-size="8">2</text></g>
<g id="B6"><rect class="b" x="550" y="354" width="75" height="18"/><path class="d" d="M550 363h75M614 363v9"/><text x="552" y="361" font-size="5.5" textLength="70" lengthAdjust="spacingAndGlyphs">8АМБ.161.553-01-Уголок</text><text x="556" y="369.5" font-size="8.5">резка</text><text class="n" x="619.5" y="370.5" font-size="8">1</text></g>
<g id="B7"><rect class="b" x="550" y="378" width="75" height="19"/><path class="d" d="M550 387.5h75M614 387.5v9.5"/><text x="552" y="385.5" font-size="5.5" textLength="52" lengthAdjust="spacingAndGlyphs">8АМБ.155.069-Уголок</text><text x="552" y="394.5" font-size="8.5">пробивка,гибка</text><text class="n" x="619.5" y="395.5" font-size="8">2</text></g>
<g id="BT"><rect class="b" x="692" y="247" width="75" height="18"/><path class="d" d="M692 256h75M756 256v9"/><text x="694" y="254" font-size="6.5" textLength="71" lengthAdjust="spacingAndGlyphs">8АМБ.170.289-Труба</text><text x="700" y="262.5" font-size="8.5">резка</text><text class="n" x="761.5" y="263.5" font-size="8">2</text></g>
<g id="K46"><rect class="b" x="673" y="299" width="112" height="28"/><path class="d" d="M673 313h112M773 313v14"/><text x="675" y="310" font-size="11" textLength="108" lengthAdjust="spacingAndGlyphs">5АМБ.001.046СБ-Корпус</text><text x="676" y="324" font-size="8" textLength="95" lengthAdjust="spacingAndGlyphs">сборка,сварка,малярка</text><text class="n" x="779" y="325" font-size="11">1</text></g>
<g id="C1"><rect class="b" x="550" y="409" width="75" height="18"/><path class="d" d="M550 418h75M614 409v9"/><text x="552" y="416" font-size="6" textLength="58" lengthAdjust="spacingAndGlyphs">8АМБ.000.42-Корпус</text><text x="552" y="424.5" font-size="5" textLength="71" lengthAdjust="spacingAndGlyphs">пробивка,гибка,зенковка</text><text class="n" x="619.5" y="416.5" font-size="8">1</text></g>
<g id="C2"><rect class="b" x="550" y="433" width="75" height="18"/><path class="d" d="M550 442h75M614 433v9"/><text x="552" y="440" font-size="6" textLength="58" lengthAdjust="spacingAndGlyphs">8АМБ.210.614-Втулка</text><text x="552" y="448.5" font-size="8.5">токарка</text><text class="n" x="619.5" y="440.5" font-size="8">2</text></g>
<g id="C3"><rect class="b" x="550" y="455" width="75" height="18"/><path class="d" d="M550 464h75M614 464v9"/><text x="552" y="462" font-size="5.5" textLength="70" lengthAdjust="spacingAndGlyphs">8АМБ.161.553-01-Уголок</text><text x="556" y="470.5" font-size="8.5">резка</text><text class="n" x="619.5" y="471.5" font-size="8">1</text></g>
<g id="C4"><rect class="b" x="550" y="478" width="75" height="19"/><path class="d" d="M550 487.5h75M614 487.5v9.5"/><text x="552" y="485.5" font-size="5.5" textLength="52" lengthAdjust="spacingAndGlyphs">8АМБ.155.069-Уголок</text><text x="552" y="494.5" font-size="8.5">пробивка,гибка</text><text class="n" x="619.5" y="495.5" font-size="8">2</text></g>
<g id="K47"><rect class="b" x="673" y="423" width="112" height="27"/><path class="d" d="M673 436.5h112M773 436.5v13.5"/><text x="675" y="434" font-size="11" textLength="108" lengthAdjust="spacingAndGlyphs">5АМБ.001.047СБ-Корпус</text><text x="676" y="447.5" font-size="8" textLength="95" lengthAdjust="spacingAndGlyphs">сборка,сварка,малярка</text><text class="n" x="779" y="448.5" font-size="11">1</text></g>

<g id="D1"><rect class="b" x="854" y="187" width="84" height="18"/><path class="d" d="M854 196h84M928 196v9"/><text x="856" y="194" font-size="6.5" textLength="80" lengthAdjust="spacingAndGlyphs">8АМБ.310.105-Накладка</text><text x="856" y="203" font-size="4" textLength="70" lengthAdjust="spacingAndGlyphs">пробивка,фрезеровка,гибка,зенковка</text><text class="n" x="933" y="203.5" font-size="7.5">1</text></g>
<g id="D2"><rect class="b" x="854" y="210" width="56" height="17"/><path class="d" d="M854 218.5h56M901 218.5v8.5"/><text x="856" y="216.5" font-size="5">Винт 4х10 DIN965</text><text x="858" y="225" font-size="5">метиз</text><text class="n" x="905.5" y="225.5" font-size="6.5">12</text></g>
<g id="T001"><rect class="b" x="828" y="248" width="122" height="26"/><path class="d" d="M828 261h122M936 261v13"/><text x="831" y="258.5" font-size="11" textLength="116" lengthAdjust="spacingAndGlyphs">8АМБ.001СБ-Транспортер</text><text x="831" y="271" font-size="8.5">слесарка,сборка</text><text class="n" x="943" y="272" font-size="11">1</text></g>
<g id="D3"><rect class="b" x="829" y="291" width="74" height="18"/><path class="d" d="M829 300h74M893 300v9"/><text x="831" y="298" font-size="6.5" textLength="70" lengthAdjust="spacingAndGlyphs">8АМБ.155.071-Прижим</text><text x="831" y="307" font-size="8.5" textLength="60" lengthAdjust="spacingAndGlyphs">лазер,малярка</text><text class="n" x="898" y="307.5" font-size="7.5">4</text></g>
<g id="D4"><rect class="b" x="847" y="314" width="56" height="17"/><path class="d" d="M847 322.5h56M894 322.5v8.5"/><text x="849" y="320.5" font-size="5">Винт М8х20 DIN912</text><text x="853" y="329" font-size="4.5">метиз</text><text class="n" x="898.5" y="329.5" font-size="6.5">8</text></g>
<g id="D5"><rect class="b" x="847" y="338" width="56" height="15"/><path class="d" d="M847 345.5h56M894 345.5v7.5"/><text x="849" y="344" font-size="5">Шайба 8 DIN125</text><text x="853" y="351.5" font-size="4.5">метиз</text><text class="n" x="898.5" y="352" font-size="6.5">8</text></g>
<g id="T002"><rect class="b" x="825" y="370" width="122" height="27"/><path class="d" d="M825 383.5h122M933 383.5v13.5"/><text x="828" y="381" font-size="11" textLength="116" lengthAdjust="spacingAndGlyphs">5АМБ.002СБ-Транспортер</text><text x="848" y="394.5" font-size="9">сборка</text><text class="n" x="940" y="395" font-size="11">1</text></g>
<g id="E1"><rect class="b" x="828" y="415" width="74" height="18"/><path class="d" d="M828 424h74M892 424v9"/><text x="830" y="422" font-size="6.5" textLength="70" lengthAdjust="spacingAndGlyphs">8АМБ.140.171-Прижим</text><text x="830" y="431" font-size="4.5" textLength="61" lengthAdjust="spacingAndGlyphs">пробивка,гибка,малярка</text><text class="n" x="897" y="431.5" font-size="7.5">2</text></g>
<g id="E2"><rect class="b" x="846" y="438" width="56" height="16"/><path class="d" d="M846 446h56M893 446v8"/><text x="848" y="444.5" font-size="5">Винт М6х16 DIN912</text><text x="852" y="452" font-size="4.5">метиз</text><text class="n" x="897.5" y="452.5" font-size="6.5">4</text></g>
<g id="E3"><rect class="b" x="845" y="461" width="57" height="16"/><path class="d" d="M845 469h57M893 469v8"/><text x="847" y="467.5" font-size="5">Шайба 8 DIN125</text><text x="851" y="475" font-size="4.5">метиз</text><text class="n" x="897.5" y="475.5" font-size="6.5">4</text></g>
<g id="E4"><rect class="b" x="840" y="484" width="62" height="18"/><path class="d" d="M840 493h62M893 493v9"/><text x="842" y="491" font-size="5.5">Гайка М6 DIN6923</text><text x="846" y="500" font-size="4.5">метиз</text><text class="n" x="897.5" y="500.5" font-size="6.5">4</text></g>

<g id="F1"><rect class="b" x="546" y="517" width="77" height="18"/><path class="d" d="M546 526h77M612 517v9"/><text x="548" y="524" font-size="6.5" textLength="61" lengthAdjust="spacingAndGlyphs">070.219.01-Линейка</text><text x="548" y="533" font-size="4.5" textLength="72" lengthAdjust="spacingAndGlyphs">пробивка,гибка,малярка</text><text class="n" x="617.5" y="524.5" font-size="8">1</text></g>
<g id="FZ1"><rect class="b" x="641" y="503" width="49" height="17"/><path class="d" d="M641 511.5h49M679 503v8.5"/><text x="643" y="509.5" font-size="4.5">Заклепка М6</text><text x="643" y="518" font-size="5.5">метиз</text><text class="n" x="684.5" y="510" font-size="7">24</text></g>
<g id="FS1"><rect class="b" x="702" y="517" width="76" height="18"/><path class="d" d="M702 526h76M769 517v9"/><text x="704" y="524" font-size="6.5" textLength="62" lengthAdjust="spacingAndGlyphs">070.219.1СБ-Линейка</text><text x="704" y="533" font-size="5">клепка</text><text class="n" x="773.5" y="524.5" font-size="7">1</text></g>
<g id="F2"><rect class="b" x="546" y="551" width="77" height="17"/><path class="d" d="M546 559.5h77M612 551v8.5"/><text x="548" y="557.5" font-size="6.5" textLength="61" lengthAdjust="spacingAndGlyphs">070.219.02-Линейка</text><text x="548" y="566" font-size="4.5">пробивка,малярка</text><text class="n" x="617.5" y="558" font-size="8">1</text></g>
<g id="FZ2"><rect class="b" x="641" y="537" width="49" height="17"/><path class="d" d="M641 545.5h49M679 537v8.5"/><text x="643" y="543.5" font-size="4.5">Заклепка М6</text><text x="643" y="552" font-size="5.5">метиз</text><text class="n" x="684.5" y="544" font-size="7">24</text></g>
<g id="FS2"><rect class="b" x="702" y="551" width="76" height="19"/><path class="d" d="M702 560.5h76M769 551v9.5"/><text x="704" y="558.5" font-size="6.5" textLength="62" lengthAdjust="spacingAndGlyphs">070.219.2СБ-Линейка</text><text x="704" y="568" font-size="5">клепка</text><text class="n" x="773.5" y="559" font-size="7">1</text></g>
<g id="F3"><rect class="b" x="546" y="585" width="77" height="18"/><path class="d" d="M546 594h77M612 585v9"/><text x="548" y="592" font-size="6.5" textLength="61" lengthAdjust="spacingAndGlyphs">070.221.01-Линейка</text><text x="548" y="601" font-size="4.5" textLength="72" lengthAdjust="spacingAndGlyphs">пробивка,гибка,малярка</text><text class="n" x="617.5" y="592.5" font-size="8">1</text></g>
<g id="FZ3"><rect class="b" x="641" y="572" width="49" height="16"/><path class="d" d="M641 580h49M679 572v8"/><text x="643" y="578" font-size="4.5">Заклепка М6</text><text x="643" y="586" font-size="5.5">метиз</text><text class="n" x="684.5" y="578.5" font-size="7">24</text></g>
<g id="FS3"><rect class="b" x="702" y="586" width="76" height="19"/><path class="d" d="M702 595.5h76M769 586v9.5"/><text x="704" y="593.5" font-size="6.5" textLength="62" lengthAdjust="spacingAndGlyphs">070.221.1СБ-Линейка</text><text x="704" y="603" font-size="5">клепка</text><text class="n" x="773.5" y="594" font-size="7">1</text></g>
<g id="F4"><rect class="b" x="546" y="618" width="77" height="19"/><path class="d" d="M546 627.5h77M612 618v9.5"/><text x="548" y="625.5" font-size="6.5" textLength="61" lengthAdjust="spacingAndGlyphs">070.221.02-Линейка</text><text x="548" y="635" font-size="4.5">пробивка,малярка</text><text class="n" x="617.5" y="626" font-size="8">1</text></g>
<g id="FZ4"><rect class="b" x="641" y="606" width="49" height="17"/><path class="d" d="M641 614.5h49M679 606v8.5"/><text x="643" y="612.5" font-size="4.5">Заклепка М6</text><text x="643" y="621" font-size="5.5">метиз</text><text class="n" x="684.5" y="613" font-size="7">24</text></g>
<g id="FS4"><rect class="b" x="702" y="618" width="76" height="19"/><path class="d" d="M702 627.5h76M769 618v9.5"/><text x="704" y="625.5" font-size="6.5" textLength="62" lengthAdjust="spacingAndGlyphs">070.221.2СБ-Линейка</text><text x="704" y="635" font-size="5">клепка</text><text class="n" x="773.5" y="626" font-size="7">1</text></g>
<g id="G1"><rect class="b" x="546" y="643" width="76" height="19"/><path class="d" d="M546 652.5h76M611 643v9.5"/><text x="548" y="650.5" font-size="6.5" textLength="60" lengthAdjust="spacingAndGlyphs">8АМБ.160.959-Шасси</text><text x="548" y="660" font-size="8.5">пробивка,гибка</text><text class="n" x="616.5" y="651" font-size="7.5">24</text></g>
<g id="G2"><rect class="b" x="546" y="668" width="106" height="19"/><path class="d" d="M546 677.5h106M641 668v9.5"/><text x="548" y="675.5" font-size="6" textLength="90" lengthAdjust="spacingAndGlyphs">8АМБ.026.027-Площадка пульта</text><text x="548" y="685" font-size="8.5" textLength="95" lengthAdjust="spacingAndGlyphs">пробивка,гибка,малярка</text><text class="n" x="646.5" y="676" font-size="8">1</text></g>
<g id="G3"><rect class="b" x="546" y="693" width="121" height="18"/><path class="d" d="M546 702h121M656 693v9"/><text x="548" y="700" font-size="6" textLength="105" lengthAdjust="spacingAndGlyphs">8АМБ.161.132-Уголок направляющих</text><text x="548" y="709" font-size="8.5" textLength="95" lengthAdjust="spacingAndGlyphs">пробивка,гибка,малярка</text><text class="n" x="661.5" y="700.5" font-size="8">2</text></g>
<g id="H1"><rect class="b" x="546" y="730" width="106" height="18"/><path class="d" d="M546 739h106M641 739v9"/><text x="548" y="737" font-size="6" textLength="102" lengthAdjust="spacingAndGlyphs">070.46.01-Держатель мониторов</text><text x="548" y="746" font-size="8">пробивка,гибка</text><text class="n" x="646.5" y="746.5" font-size="8">1</text></g>
<g id="HV"><rect class="b" x="677" y="717" width="50" height="16"/><path class="d" d="M677 725h50M717 725v8"/><text x="679" y="723" font-size="4">Винт М6х40 DIN933</text><text x="681" y="731.5" font-size="6.5">метиз</text><text class="n" x="722" y="732" font-size="7">2</text></g>
<g id="H2"><rect class="b" x="725" y="730" width="114" height="18"/><path class="d" d="M725 739h114M829 739v9"/><text x="727" y="737" font-size="6" textLength="110" lengthAdjust="spacingAndGlyphs">070.46СБ-Держатель мониторов</text><text x="727" y="746" font-size="8.5">сварка,малярка</text><text class="n" x="834" y="746.5" font-size="7.5">1</text></g>
</svg>
